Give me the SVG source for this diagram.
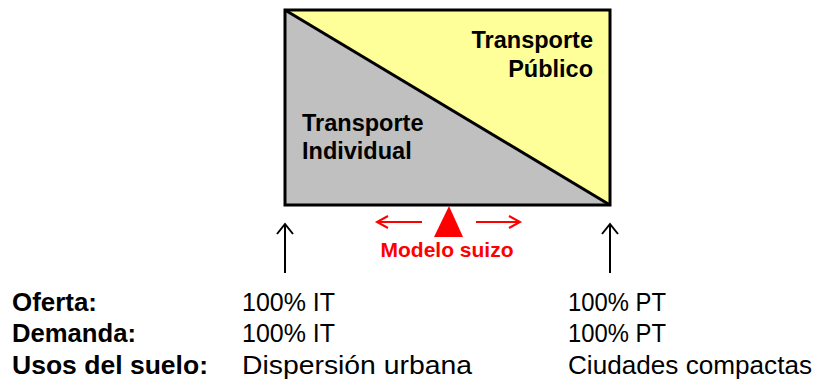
<svg xmlns="http://www.w3.org/2000/svg" width="820" height="381" viewBox="0 0 820 381">
<style>
.b{font-family:"Liberation Sans",Arial,sans-serif;font-weight:bold;fill:#000}
.r{font-family:"Liberation Sans",Arial,sans-serif;fill:#000}
.blk{stroke:#000;stroke-width:2;fill:none}
.red{stroke:#f00;stroke-width:2;fill:none}
</style>
<g id="box">
<polygon points="285,10 610,10 610,205" fill="#ffff99"/>
<polygon points="285,10 610,205 285,205" fill="#c0c0c0"/>
<rect x="285" y="10" width="325" height="195" fill="none" stroke="#000" stroke-width="3"/>
<line x1="285" y1="10" x2="610" y2="205" stroke="#000" stroke-width="3"/>
<text class="b" font-size="23.5" x="593" y="48" text-anchor="end">Transporte</text>
<text class="b" font-size="23.5" x="593" y="77" text-anchor="end">Público</text>
<text class="b" font-size="23.5" x="302" y="131">Transporte</text>
<text class="b" font-size="23.5" x="302" y="159">Individual</text>
</g>
<g id="modelo">
<polygon points="449,206 434,237 463,237" fill="#f00"/>
<text x="447" y="257" font-size="21" text-anchor="middle" font-family="'Liberation Sans',Arial,sans-serif" font-weight="bold" fill="#f00">Modelo suizo</text>
</g>
<g id="connectors">
<path class="red" d="M422,222 H377 M388,216 L377,222 L388,228"/>
<path class="red" d="M476,222 H520 M509,216 L520,222 L509,228"/>
<path class="blk" d="M285,273 V224 M277,234 L285,224 L293,234"/>
<path class="blk" d="M610,273 V224 M602,234 L610,224 L618,234"/>
</g>
<g id="table">
<text class="b" font-size="26" x="12" y="311" textLength="85" lengthAdjust="spacingAndGlyphs">Oferta:</text>
<text class="b" font-size="26" x="12" y="342" textLength="124" lengthAdjust="spacingAndGlyphs">Demanda:</text>
<text class="b" font-size="26" x="12" y="374" textLength="196" lengthAdjust="spacingAndGlyphs">Usos del suelo:</text>
<text class="r" font-size="26" x="242" y="311" textLength="93" lengthAdjust="spacingAndGlyphs">100% IT</text>
<text class="r" font-size="26" x="242" y="342" textLength="93" lengthAdjust="spacingAndGlyphs">100% IT</text>
<text class="r" font-size="26" x="242" y="374" textLength="230" lengthAdjust="spacingAndGlyphs">Dispersión urbana</text>
<text class="r" font-size="26" x="568" y="311" textLength="98" lengthAdjust="spacingAndGlyphs">100% PT</text>
<text class="r" font-size="26" x="568" y="342" textLength="98" lengthAdjust="spacingAndGlyphs">100% PT</text>
<text class="r" font-size="26" x="568" y="374" textLength="244" lengthAdjust="spacingAndGlyphs">Ciudades compactas</text>
</g>
</svg>
